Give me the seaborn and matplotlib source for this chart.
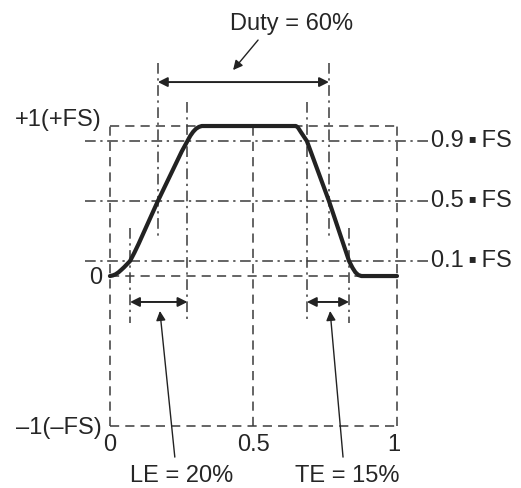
import numpy as np
import pandas as pd
import matplotlib.pyplot as plt
import seaborn as sns

# waveform (one period, x in fraction of period, y in FS)
wave_x = [0.0, 0.01, 0.02, 0.03, 0.04, 0.05, 0.06, 0.07, 0.085, 0.1,
          0.167, 0.25, 0.27, 0.28, 0.29, 0.30, 0.31, 0.32,
          0.648, 0.655, 0.665, 0.686, 0.763, 0.833, 0.845, 0.855, 0.865,
          0.876, 1.0]
wave_y = [0.0, 0.004, 0.012, 0.025, 0.042, 0.06, 0.08, 0.1, 0.155, 0.215,
          0.5, 0.83, 0.9, 0.935, 0.962, 0.982, 0.994, 1.0,
          1.0, 0.99, 0.96, 0.9, 0.5, 0.1, 0.055, 0.025, 0.007,
          0.0, 0.0]

levels = [0.9, 0.5, 0.1]
level_labels = ["0.9\u2009\u25aa\u2009FS", "0.5\u2009\u25aa\u2009FS", "0.1\u2009\u25aa\u2009FS"]
x_ticks = [0, 0.5, 1]
x_tick_labels = ["0", "0.5", "1"]
y_marks = [1, 0, -1]
y_mark_labels = ["+1(+FS)", "0", "\u20131(\u2013FS)"]

# edge crossing times
le_start, le_end = 0.07, 0.27
te_start, te_end = 0.686, 0.833
duty_start, duty_end = 0.167, 0.763

sns.set_theme(style="white")
plt.rcParams['font.family'] = ['Liberation Sans', 'DejaVu Sans']

fig = plt.figure(figsize=(5.21, 4.88), dpi=100)
ax = fig.add_axes([0, 0, 1, 1])
ax.set_xlim(-0.383, 1.432)
ax.set_ylim(-1.413, 1.84)
ax.axis('off')

grid_c = '#3a3a3a'
dash = dict(color=grid_c, lw=1.1, linestyle=(0, (6, 4)))
dashdot = dict(color=grid_c, lw=1.1, linestyle=(0, (7, 3, 1.5, 3)))

# dashed frame
for x in x_ticks:
    ax.plot([x, x], [-1, 1], **dash)
for y in y_marks:
    ax.plot([0, 1], [y, y], **dash)

# threshold levels
for lv, lab in zip(levels, level_labels):
    ax.plot([-0.087, 1.115], [lv, lv], **dashdot)
    ax.text(1.118, lv, lab, ha='left', va='center', fontsize=17)

# vertical markers at crossings
ax.plot([le_start] * 2, [0.32, -0.31], **dashdot)
ax.plot([le_end] * 2, [1.16, -0.31], **dashdot)
ax.plot([te_start] * 2, [1.16, -0.31], **dashdot)
ax.plot([te_end] * 2, [0.32, -0.31], **dashdot)
ax.plot([duty_start] * 2, [1.42, 0.25], **dashdot)
ax.plot([duty_end] * 2, [1.42, 0.25], **dashdot)

df = pd.DataFrame({'t': wave_x, 'v': wave_y})
sns.lineplot(data=df, x='t', y='v', ax=ax, color='#222222', lw=3.0,
             sort=False, estimator=None, solid_joinstyle='round',
             solid_capstyle='round')
ax.set_xlabel('')
ax.set_ylabel('')

arrow = dict(arrowstyle='<|-|>', color='#222222', lw=1.4, mutation_scale=14,
             shrinkA=0, shrinkB=0)
ax.annotate('', xy=(duty_start, 1.293), xytext=(duty_end, 1.293), arrowprops=arrow)
ax.annotate('', xy=(le_start, -0.173), xytext=(le_end, -0.173), arrowprops=arrow)
ax.annotate('', xy=(te_start, -0.173), xytext=(te_end, -0.173), arrowprops=arrow)

pointer = dict(arrowstyle='-|>', color='#222222', lw=1.0, mutation_scale=14,
               shrinkA=0, shrinkB=0)
ax.annotate('', xy=(0.429, 1.373), xytext=(0.516, 1.573), arrowprops=pointer)
ax.annotate('', xy=(0.174, -0.233), xytext=(0.226, -1.207), arrowprops=pointer)
ax.annotate('', xy=(0.767, -0.233), xytext=(0.812, -1.207), arrowprops=pointer)

ax.text(0.634, 1.68, 'Duty = 60%', ha='center', va='center', fontsize=17)
ax.text(0.251, -1.33, 'LE = 20%', ha='center', va='center', fontsize=17)
ax.text(0.826, -1.33, 'TE = 15%', ha='center', va='center', fontsize=17)

for y, lab in zip(y_marks, y_mark_labels):
    ax.text(-0.028, y + (0.04 if y == 1 else -0.01), lab, ha='right',
            va='center', fontsize=17)
for x, lab in zip(x_ticks, x_tick_labels):
    ax.text(x - (0.01 if x == 1 else 0), -1.127, lab, ha='center',
            va='center', fontsize=17)

fig.savefig('out.png', dpi=100)
